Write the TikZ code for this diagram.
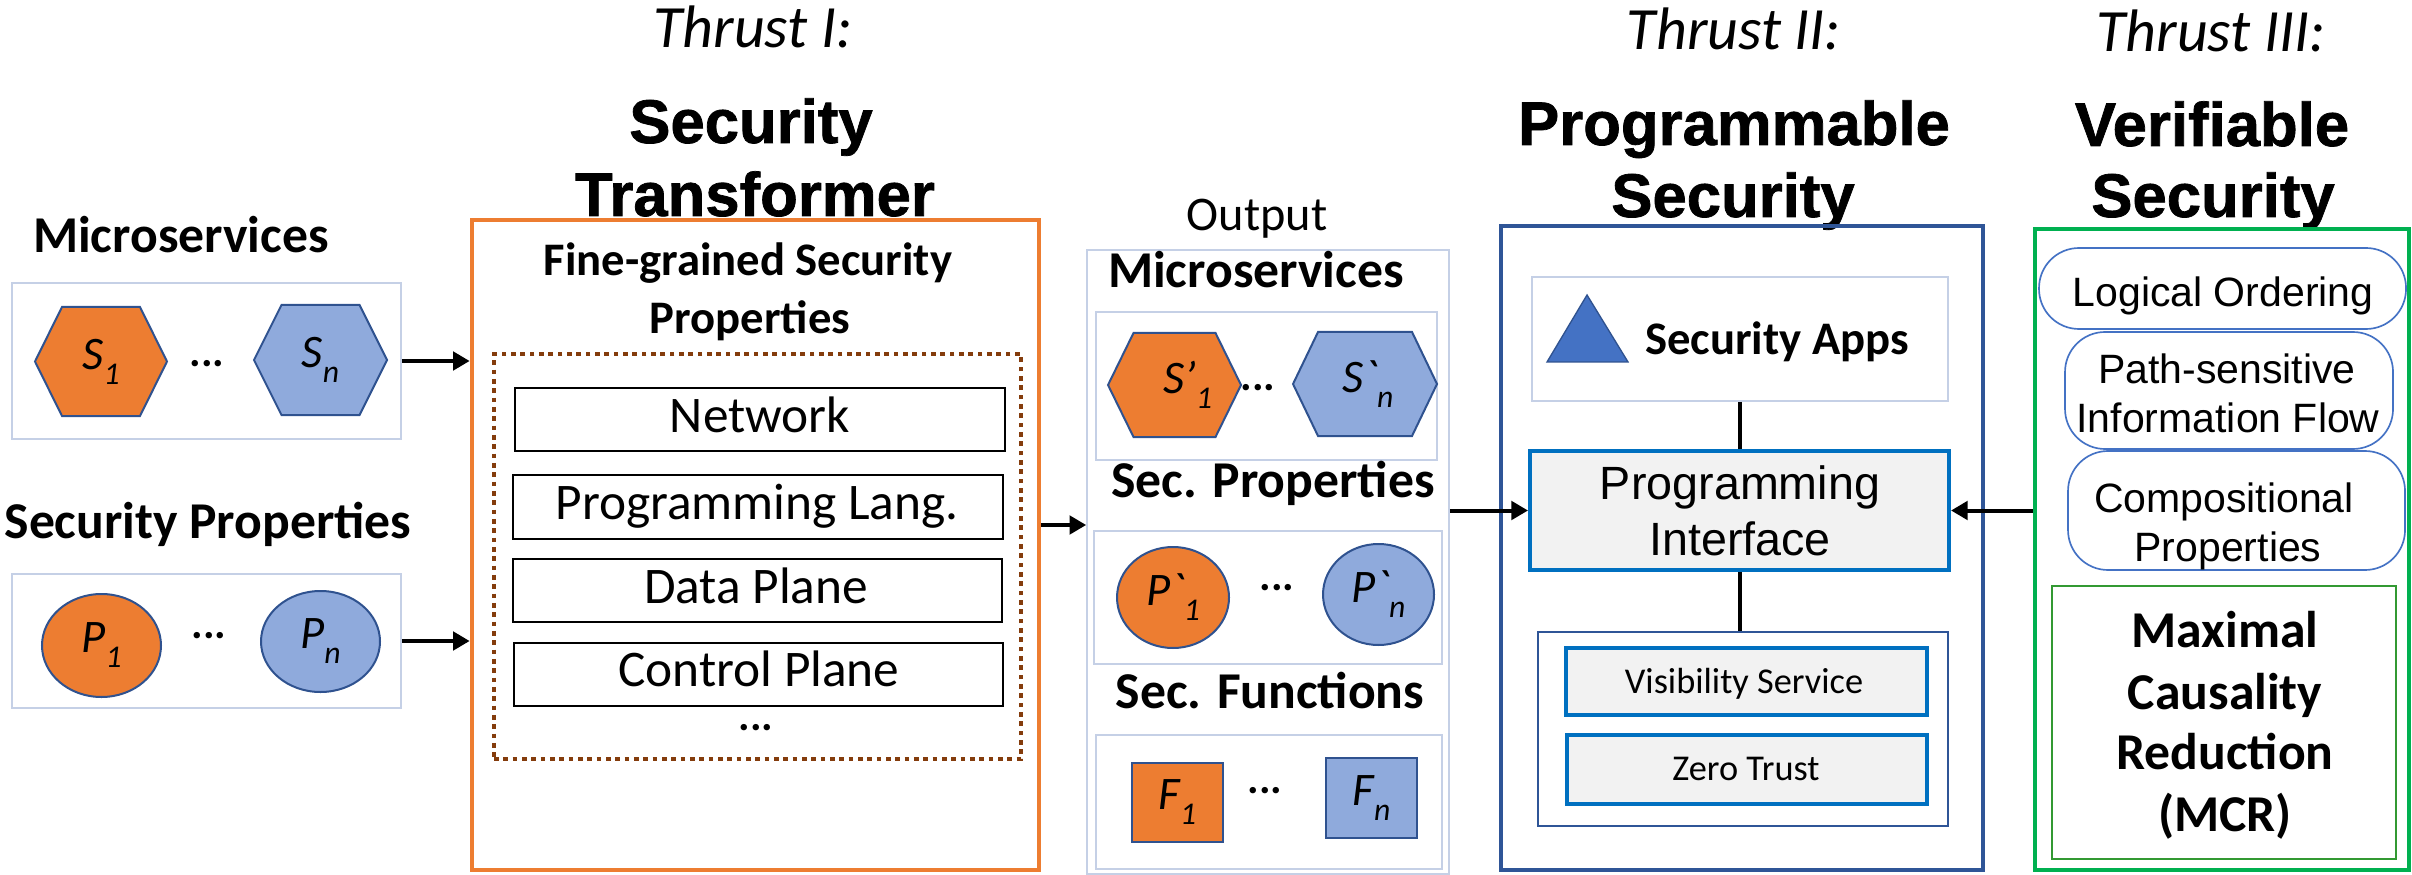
\documentclass[tikz,border=0pt]{standalone}
\usepackage{fontspec}
\setmainfont{Carlito}
\newfontfamily\arialf{Liberation Sans}
\newfontfamily\arialh{Liberation Sans Bold}[FakeBold=1.2]
\usetikzlibrary{arrows.meta,fit,shapes.geometric}
\definecolor{orf}{HTML}{ED7D31}
\definecolor{blf}{HTML}{8FAADC}
\definecolor{shpb}{HTML}{2F528F}
\definecolor{lightfr}{HTML}{C5D0E6}
\definecolor{bluefr}{HTML}{2F5597}
\definecolor{greenfr}{HTML}{00B050}
\definecolor{mcrg}{HTML}{339933}
\definecolor{piblue}{HTML}{0070C0}
\definecolor{pigray}{HTML}{F2F2F2}
\definecolor{pillb}{HTML}{4472C4}
\definecolor{brownd}{HTML}{843C0C}
\newcommand{\fs}[2]{\fontsize{#1}{#2}\selectfont}
\newcommand{\lab}[2]{{\fs{14}{14}\itshape #1\raisebox{-4.5pt}{\fs{9.5}{9.5}#2}}}
\newcommand{\hexa}[6]{\draw[shapeb, fill=#6] (#1-#3,#2) -- (#1-#4,#2-#5) -- (#1+#4,#2-#5) -- (#1+#3,#2) -- (#1+#4,#2+#5) -- (#1-#4,#2+#5) -- cycle;}
\tikzset{
 lightbox/.style={draw=lightfr, line width=0.5pt, inner sep=0pt},
 shapeb/.style={draw=shpb, line width=0.6pt},
 arr/.style={line width=1.2pt, -{Triangle[length=5pt,width=5.5pt]}},
 conn/.style={line width=1.2pt},
 hdr/.style={font=\fs{15.5}{18}\bfseries, anchor=base, inner sep=0pt},
 ttl/.style={font=\arialh\fs{18.5}{22}, anchor=base, inner sep=0pt},
 thr/.style={font=\fs{18}{22}\itshape, anchor=base, inner sep=0pt},
 layerbox/.style={draw=black, line width=0.6pt, inner sep=0pt},
 layertxt/.style={font=\fs{15.4}{18}, anchor=base, inner sep=0pt},
 pibox/.style={draw=piblue, fill=pigray, line width=1.2pt, inner sep=0pt},
 pill/.style={draw=pillb, line width=0.5pt, rounded corners=12pt, inner sep=0pt},
 piltxt/.style={font=\arialf\fs{12.3}{14.6}, anchor=base, inner sep=0pt},
 mcrtxt/.style={font=\fs{15.5}{18.5}\bfseries, anchor=base, inner sep=0pt},
 dotsn/.style={font=\fs{13}{13}\bfseries, inner sep=0pt},
 ell/.style={ellipse, shapeb, inner sep=0pt}
}
\begin{document}
\begin{tikzpicture}[x=0.3pt,y=-0.3pt]
\useasboundingbox (0,0) rectangle (2412,875);
\coordinate (y525) at (0,525);

% ---------- left inputs ----------
\node[hdr] (msT) at (181,253) {Microservices};
\node[lightbox, fit={(12,283)(401,439)}] (msbox) {};
\hexa{101}{361.5}{66}{39}{54.5}{orf}
\node (s1) at (101,361.5) {\lab{S}{1}};
\hexa{320.5}{360}{66.5}{39}{55}{blf}
\node (sn) at (320.5,360) {\lab{S}{n}};
\node[dotsn] (msd) at (207,364) {...};

\node[hdr] (spT) at (208,538) {Security Properties};
\node[lightbox, fit={(12,574)(401,708)}] (spbox) {};
\node[ell, fill=orf, minimum width=35.7pt, minimum height=30.9pt] (p1) at (101.5,645.5) {\lab{P}{1}};
\node[ell, fill=blf, minimum width=35.7pt, minimum height=30.3pt] (pn) at (320.5,641.5) {\lab{P}{n}};
\node[dotsn] (spd) at (209,636) {...};

% ---------- Thrust I ----------
\node[thr] (t1) at (753,48) {Thrust I:};
\node[ttl] (t1a) at (751,143) {Security};
\node[ttl] (t1b) at (755,216) {Transformer};
\node[draw=orf, line width=1.4pt, inner sep=0pt, fit={(472,220)(1039,870)}] (tbox) {};
\node[hdr, font=\fs{14}{17}\bfseries] (fg1) at (748,276) {Fine-grained Security};
\node[hdr, font=\fs{14}{17}\bfseries] (fg2) at (750,334) {Properties};
\node[draw=brownd, line width=1.4pt, dash pattern=on 1.4pt off 1.4pt, inner sep=0pt, fit={(494,354)(1021,759)}] (dbox) {};
\node[layerbox, fit={(515,388)(1005,451)}] (net) {};
\node[layertxt] (nett) at (760,432) {Network};
\node[layerbox, fit={(513,475)(1003,539)}] (pl) {};
\node[layertxt] (plt) at (757,519) {Programming Lang.};
\node[layerbox, fit={(513,559)(1002,622)}] (dp) {};
\node[layertxt] (dpt) at (756,603) {Data Plane};
\node[layerbox, fit={(514,643)(1003,706)}] (cp) {};
\node[layertxt] (cpt) at (759,686) {Control Plane};
\node[dotsn] (ldots) at (756,728) {...};

\draw[arr] (msbox.east) -- (msbox.east -| tbox.west);
\draw[arr] (spbox.east) -- (spbox.east -| tbox.west);

% ---------- Output ----------
\node[inner sep=0pt, anchor=base, font=\fs{14.5}{17}] (outT) at (1257,231) {Output};
\node[lightbox, fit={(1087,250)(1449,874)}] (obox) {};
\node[hdr] (omsT) at (1256,288) {Microservices};
\node[lightbox, fit={(1096,312)(1437,460)}] (omsbox) {};
\hexa{1174.5}{385}{66.5}{41}{52}{orf}
\node (os1) at (1188,385) {\lab{S’}{1}};
\hexa{1365}{384}{72}{47}{52}{blf}
\node (osn) at (1368,384) {\lab{S\textasciigrave}{n}};
\node[dotsn] (omsd) at (1258,388) {...};

\node[hdr] (ospT) at (1273,497) {Sec. Properties};
\node[lightbox, fit={(1094,531)(1442,664)}] (ospbox) {};
\node[ell, fill=orf, minimum width=33.6pt, minimum height=30.3pt] (op1) at (1173,597.5) {\lab{P\textasciigrave}{1}};
\node[ell, fill=blf, minimum width=33.3pt, minimum height=30.3pt] (opn) at (1378.5,594.5) {\lab{P\textasciigrave}{n}};
\node[dotsn] (ospd) at (1277,588) {...};

\node[hdr] (osfT) at (1270,708) {Sec. Functions};
\node[lightbox, fit={(1096,735)(1442,869)}] (osfbox) {};
\node[shapeb, fill=orf, inner sep=0pt, fit={(1132,763)(1223,842)}] (f1) {};
\node (f1t) at (f1.center) {\lab{F}{1}};
\node[shapeb, fill=blf, inner sep=0pt, fit={(1326,758)(1417,838)}] (fn) {};
\node (fnt) at (fn.center) {\lab{F}{n}};
\node[dotsn] (osfd) at (1265,791) {...};

\draw[arr] (tbox.east |- y525) -- (obox.west |- y525);

% ---------- Thrust II ----------
\node[thr] (t2) at (1734,50) {Thrust II:};
\node[ttl] (t2a) at (1734,145) {Programmable};
\node[ttl] (t2b) at (1733,217) {Security};
\node[draw=bluefr, line width=1.4pt, inner sep=0pt, fit={(1501,226)(1983,870)}] (bbox) {};
\node[lightbox, fit={(1532,277)(1948,401)}] (apps) {};
\draw[shapeb, line width=0.4pt, fill=pillb] (1547,362) -- (1587,295) -- (1628,362) -- cycle;
\node[hdr, font=\fs{14}{17}\bfseries] (appsT) at (1777,354) {Security Apps};
\node[pibox, fit={(1530,451)(1949,570)}] (pi) {};
\node[anchor=base, inner sep=0pt, font=\arialf\fs{14}{16.8}] (pit1) at (1740,499) {Programming};
\node[anchor=base, inner sep=0pt, font=\arialf\fs{14}{16.8}] (pit2) at (1740,555) {Interface};
\node[draw=bluefr, line width=0.6pt, inner sep=0pt, fit={(1538,632)(1948,826)}] (lower) {};
\node[pibox, fit={(1566,648)(1927,715)}] (vis) {};
\node[anchor=base, inner sep=0pt, font=\fs{10.9}{13}] (vist) at (1744,693) {Visibility Service};
\node[pibox, fit={(1567,735)(1927,804)}] (zt) {};
\node[anchor=base, inner sep=0pt, font=\fs{10.9}{13}] (ztt) at (1746,780) {Zero Trust};
\draw[conn] (apps.south) -- (apps.south |- pi.north);
\draw[conn] (pi.south) -- (pi.south |- lower.north);
\draw[arr] (obox.east |- pi.west) -- (pi.west);

% ---------- Thrust III ----------
\node[thr] (t3) at (2211,52) {Thrust III:};
\node[ttl] (t3a) at (2212,146) {Verifiable};
\node[ttl] (t3b) at (2213,217) {Security};
\node[draw=greenfr, line width=1.4pt, inner sep=0pt, fit={(2035,229)(2409,870)}] (gbox) {};
\node[pill, fit={(2039,248)(2406,329)}] (lo) {};
\node[piltxt] (lot) at (2223,307) {Logical Ordering};
\node[pill, fit={(2065,332)(2393,449)}] (ps) {};
\node[piltxt] (pst1) at (2227,384) {Path-sensitive};
\node[piltxt] (pst2) at (2228,432) {Information Flow};
\node[pill, fit={(2068,451)(2405,570)}] (cpp) {};
\node[piltxt] (cpt1) at (2224,512) {Compositional};
\node[piltxt] (cpt2) at (2228,561) {Properties};
\node[draw=mcrg, line width=0.6pt, inner sep=0pt, fit={(2052,586)(2396,859)}] (mcr) {};
\node[mcrtxt] (m1) at (2225,647) {Maximal};
\node[mcrtxt] (m2) at (2225,709) {Causality};
\node[mcrtxt] (m3) at (2225,769) {Reduction};
\node[mcrtxt] (m4) at (2225,831) {(MCR)};
\draw[arr] (gbox.west |- pi.east) -- (pi.east);
\end{tikzpicture}
\end{document}
